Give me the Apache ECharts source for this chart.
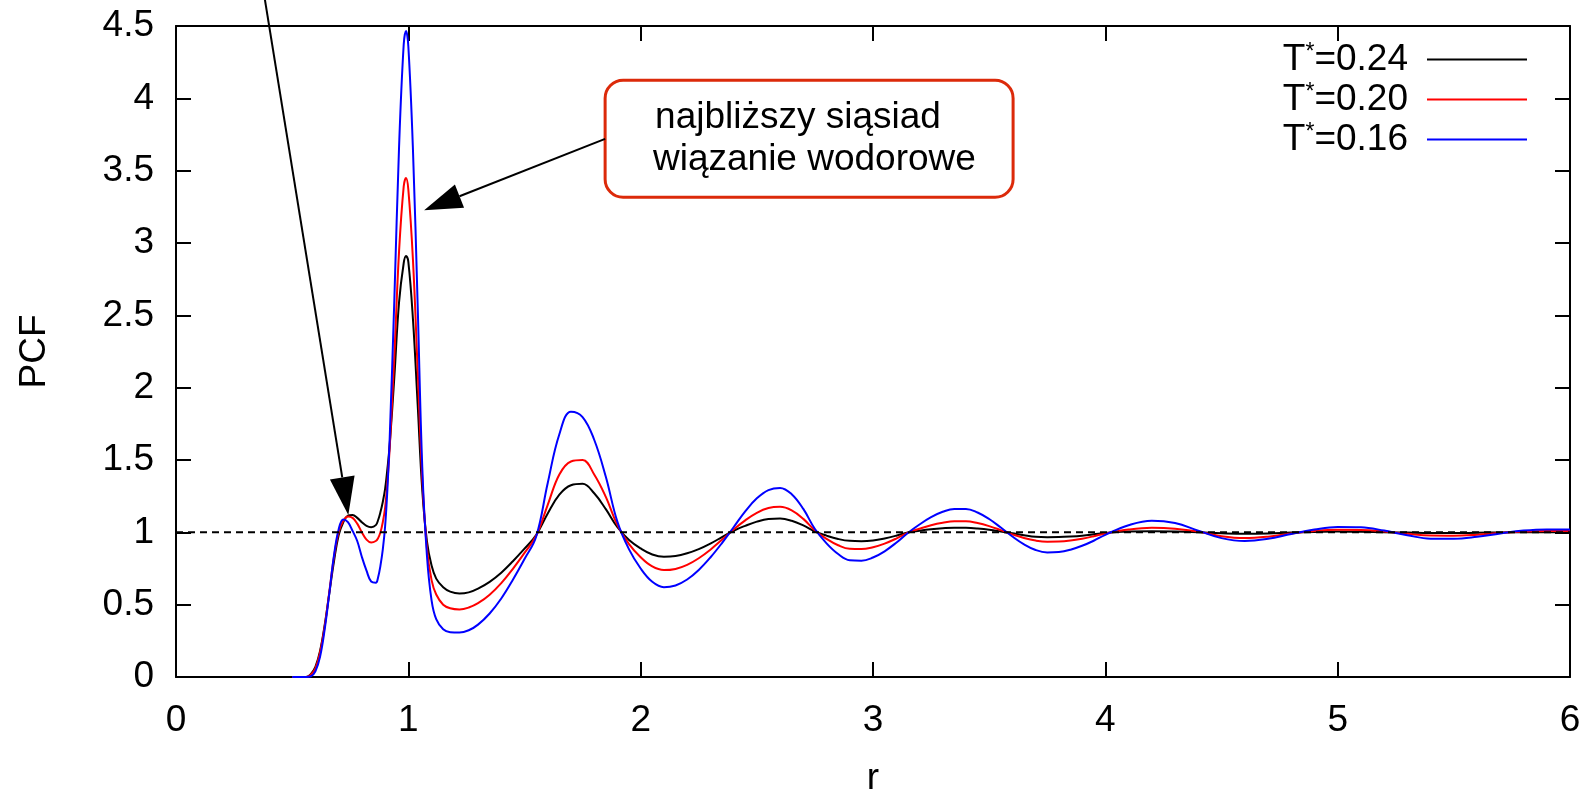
<!DOCTYPE html>
<html><head><meta charset="utf-8">
<script src="https://cdn.jsdelivr.net/npm/echarts@6/dist/echarts.min.js"></script>
<style>html,body{margin:0;padding:0;background:#fff}#c{width:1593px;height:794px}</style>
</head><body><div id="c"></div>
<script>
// ---- data ----
const r = [0.50,0.56,0.58,0.60,0.62,0.64,0.66,0.68,0.70,0.72,0.74,0.76,0.78,0.80,0.82,0.84,0.86,0.87,0.88,0.89,0.90,0.91,0.92,0.94,0.96,0.98,0.99,1.00,1.02,1.04,1.06,1.08,1.10,1.12,1.15,1.18,1.22,1.26,1.30,1.35,1.40,1.45,1.50,1.55,1.60,1.65,1.70,1.75,1.80,1.85,1.90,1.95,2.00,2.05,2.10,2.15,2.20,2.25,2.30,2.35,2.40,2.45,2.50,2.55,2.60,2.65,2.70,2.75,2.80,2.85,2.90,2.95,3.00,3.05,3.10,3.15,3.20,3.25,3.30,3.35,3.40,3.45,3.50,3.55,3.60,3.65,3.70,3.75,3.80,3.85,3.90,3.95,4.00,4.10,4.20,4.30,4.40,4.50,4.60,4.70,4.80,4.90,5.00,5.10,5.20,5.30,5.40,5.50,5.60,5.70,5.80,5.90,6.00];

const pcfT024 = [0,0,0.02,0.07,0.18,0.36,0.58,0.80,0.98,1.07,1.115,1.12,1.10,1.07,1.045,1.036,1.05,1.085,1.14,1.21,1.30,1.44,1.61,2.08,2.59,2.86,2.91,2.87,2.47,1.89,1.29,0.94,0.77,0.68,0.62,0.59,0.577,0.585,0.611,0.658,0.721,0.80,0.887,0.981,1.13,1.26,1.325,1.335,1.27,1.16,1.035,0.947,0.889,0.847,0.831,0.836,0.855,0.884,0.922,0.967,1.011,1.045,1.074,1.092,1.095,1.080,1.048,1.006,0.977,0.954,0.941,0.939,0.944,0.958,0.977,0.999,1.011,1.021,1.028,1.032,1.031,1.026,1.018,1.006,0.993,0.980,0.969,0.966,0.967,0.971,0.977,0.986,0.996,1.005,1.008,1.006,1.001,0.994,0.990,0.992,0.998,1.002,1.005,1.004,1.001,0.998,0.995,0.995,0.997,0.999,1.000,1.000,1.000];

const pcfT020 = [0,0,0.015,0.06,0.17,0.35,0.59,0.83,1.00,1.08,1.11,1.10,1.06,1.00,0.95,0.93,0.94,0.96,1.00,1.07,1.17,1.35,1.59,2.23,2.94,3.39,3.45,3.37,2.88,2.13,1.37,0.89,0.67,0.57,0.50,0.475,0.467,0.48,0.51,0.569,0.649,0.748,0.858,0.976,1.19,1.40,1.49,1.50,1.40,1.245,1.05,0.919,0.828,0.764,0.739,0.747,0.775,0.821,0.880,0.949,1.020,1.083,1.135,1.168,1.176,1.152,1.093,1.013,0.955,0.911,0.886,0.884,0.897,0.922,0.957,0.998,1.025,1.049,1.066,1.076,1.076,1.064,1.043,1.015,0.986,0.961,0.943,0.935,0.936,0.943,0.956,0.973,0.992,1.019,1.031,1.025,1.005,0.973,0.960,0.970,0.992,1.009,1.017,1.016,1.006,0.990,0.978,0.977,0.984,0.996,1.006,1.010,1.010];

const pcfT016 = [0,0,0.005,0.04,0.14,0.33,0.58,0.84,1.02,1.089,1.07,1.01,0.94,0.83,0.735,0.66,0.652,0.69,0.77,0.88,1.04,1.30,1.66,2.62,3.66,4.37,4.466,4.36,3.64,2.58,1.45,0.84,0.53,0.40,0.33,0.31,0.307,0.323,0.362,0.439,0.543,0.672,0.815,0.969,1.341,1.678,1.834,1.797,1.640,1.384,1.072,0.882,0.750,0.658,0.621,0.633,0.674,0.740,0.826,0.926,1.035,1.145,1.235,1.292,1.307,1.264,1.162,1.023,0.924,0.850,0.807,0.804,0.826,0.869,0.928,0.996,1.054,1.105,1.142,1.162,1.162,1.137,1.092,1.033,0.971,0.917,0.878,0.861,0.864,0.880,0.907,0.942,0.983,1.049,1.080,1.064,1.012,0.960,0.940,0.955,0.988,1.019,1.037,1.035,1.012,0.980,0.956,0.955,0.969,0.992,1.012,1.020,1.020];

const seriesNames = ['T*=0.24', 'T*=0.20', 'T*=0.16'];
const seriesColors = ['#000000', '#ff0000', '#0000ff'];
const referenceLevel = 1;
const xTickValues = [0, 1, 2, 3, 4, 5, 6];
const annotationLines = ['najbliższy siąsiad', 'wiązanie wodorowe'];

// annotation anchors in data coordinates
const boxCorners = [[1.847, 4.125], [3.603, 3.316]];
const textAnchors = [[2.062, 3.868], [2.053, 3.578]];
const arrowHBond = [[1.847, 3.72], [1.068, 3.227]];
const arrowFirst = [[0.3758, 4.75], [0.7417, 1.12]];

const FONT = "'Liberation Sans', Arial, Helvetica, sans-serif";
const FS = 37;

const chart = echarts.init(document.getElementById('c'), null, {renderer: 'canvas'});

const axisCommon = {
  axisLine: {show: true, onZero: false, lineStyle: {color: '#000', width: 2}},
  axisTick: {show: true, inside: true, length: 15, lineStyle: {color: '#000', width: 2}},
  splitLine: {show: false}
};

function pairs(vals) { return r.map((x, i) => [x, vals[i]]); }

const lineSeries = [pcfT024, pcfT020, pcfT016].map((vals, i) => ({
  name: seriesNames[i],
  type: 'line',
  data: pairs(vals),
  showSymbol: false,
  smooth: 0.4,
  lineStyle: {color: seriesColors[i], width: 2},
  itemStyle: {color: seriesColors[i]},
  z: 2 + i
}));

lineSeries.push({
  name: 'ref',
  type: 'line',
  data: [[xTickValues[0], referenceLevel], [xTickValues[xTickValues.length - 1], referenceLevel]],
  showSymbol: false,
  lineStyle: {color: '#000', width: 2, type: [7, 5]},
  z: 6,
  silent: true
});

const option = {
  animation: false,
  backgroundColor: '#fff',
  grid: {left: 176, right: 23, top: 26, bottom: 117, containLabel: false, outerBoundsMode: 'none'},
  xAxis: [
    Object.assign({}, axisCommon, {
      type: 'value', position: 'bottom', min: 0, max: 6, interval: 1,
      name: 'r', nameLocation: 'middle', nameGap: 83,
      nameTextStyle: {fontFamily: FONT, fontSize: FS, color: '#000'},
      axisLabel: {fontFamily: FONT, fontSize: FS, color: '#000', margin: 25}
    }),
    Object.assign({}, axisCommon, {
      type: 'value', position: 'top', min: 0, max: 6, interval: 1,
      axisLabel: {show: false}
    })
  ],
  yAxis: [
    Object.assign({}, axisCommon, {
      type: 'value', position: 'left', min: 0, max: 4.5, interval: 0.5,
      name: 'PCF', nameLocation: 'middle', nameGap: 123, nameRotate: 90,
      nameTextStyle: {fontFamily: FONT, fontSize: FS, color: '#000'},
      axisLabel: {fontFamily: FONT, fontSize: FS, color: '#000', margin: 22}
    }),
    Object.assign({}, axisCommon, {
      type: 'value', position: 'right', min: 0, max: 4.5, interval: 0.5,
      axisLabel: {show: false}
    })
  ],
  legend: {
    data: seriesNames,
    orient: 'vertical',
    align: 'right',
    right: 66,
    top: 41,
    padding: 0,
    itemWidth: 100,
    itemHeight: 2,
    itemGap: 3,
    icon: 'rect',
    selectedMode: false,
    formatter: function (name) {
      return '{t|T}{s|*}{t|' + name.slice(2) + '}{p|}';
    },
    textStyle: {
      fontFamily: FONT, fontSize: FS, color: '#000',
      rich: {
        t: {fontFamily: FONT, fontSize: FS, color: '#000', lineHeight: 36},
        s: {fontFamily: FONT, fontSize: 23, color: '#000', verticalAlign: 'top', lineHeight: 36},
        p: {width: 14}
      }
    }
  },
  series: lineSeries
};

chart.setOption(option);

// ---- annotations positioned through the chart's own coordinate system ----
function px(p) { return chart.convertToPixel({gridIndex: 0}, p); }

function arrow(fromTo) {
  const a = px(fromTo[0]), b = px(fromTo[1]);
  const dx = b[0] - a[0], dy = b[1] - a[1];
  const len = Math.sqrt(dx * dx + dy * dy);
  const ux = dx / len, uy = dy / len;
  const L = 38, W = 12.5;
  const bx = b[0] - ux * L, by = b[1] - uy * L;
  const nx = -uy, ny = ux;
  return [
    {type: 'line', shape: {x1: a[0], y1: a[1], x2: bx, y2: by}, style: {stroke: '#000', lineWidth: 2}, z: 100},
    {type: 'polygon', shape: {points: [[b[0], b[1]], [bx + nx * W, by + ny * W], [bx - nx * W, by - ny * W]]}, style: {fill: '#000'}, z: 100}
  ];
}

const p0 = px(boxCorners[0]), p1 = px(boxCorners[1]);
const graphics = [
  {type: 'rect', shape: {x: p0[0], y: p0[1], width: p1[0] - p0[0], height: p1[1] - p0[1], r: 18},
   style: {fill: '#fff', stroke: '#dc2a0a', lineWidth: 3}, z: 100}
];
annotationLines.forEach((t, i) => {
  const q = px(textAnchors[i]);
  graphics.push({type: 'text', x: q[0], y: q[1], z: 101,
    style: {text: t, fill: '#000', font: FS + 'px ' + FONT, align: 'left', verticalAlign: 'middle'}});
});
arrow(arrowHBond).forEach(g => graphics.push(g));
arrow(arrowFirst).forEach(g => graphics.push(g));

chart.setOption({graphic: graphics});
</script>
</body></html>
